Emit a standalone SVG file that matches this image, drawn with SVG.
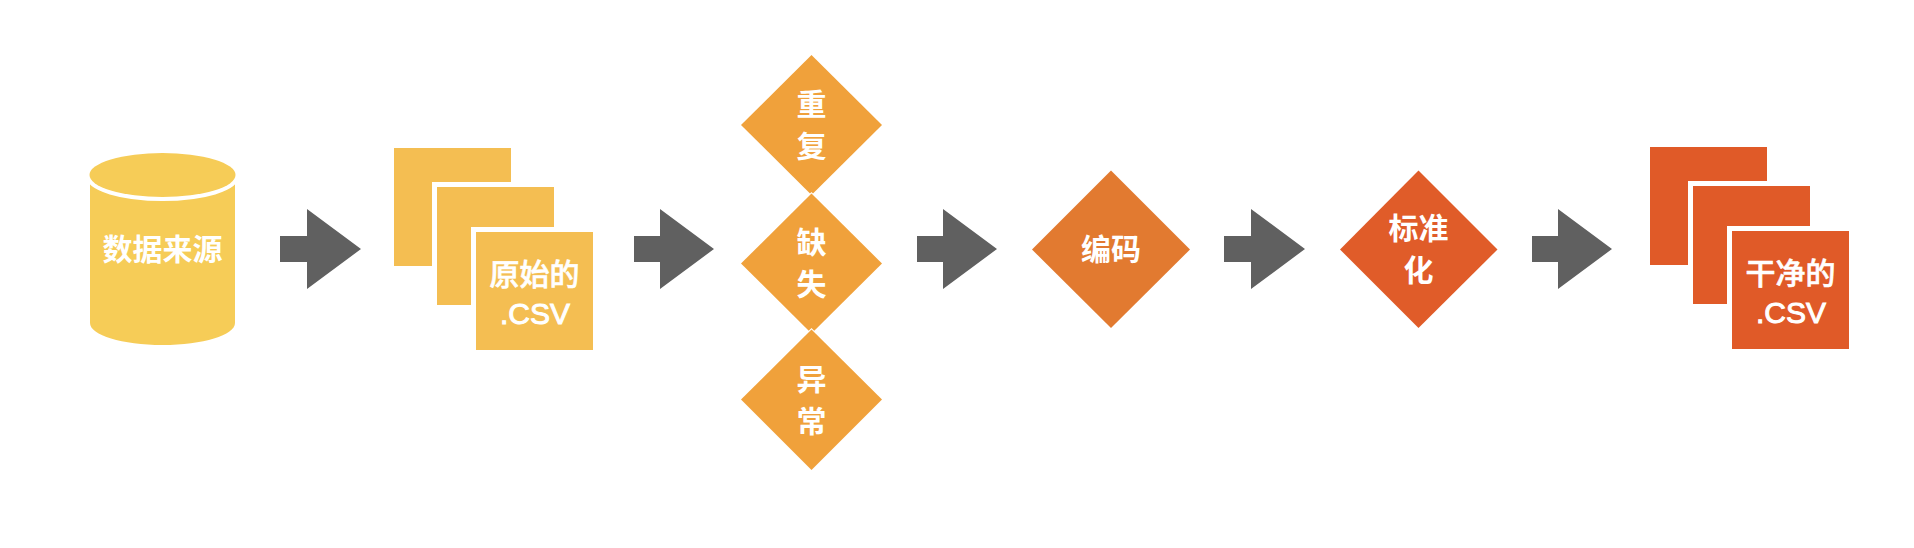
<svg xmlns="http://www.w3.org/2000/svg" width="1914" height="548" viewBox="0 0 1914 548">
<style>
text{font-family:"Noto Sans CJK SC","Liberation Sans",sans-serif;font-size:30px;font-weight:700;fill:#fff;text-anchor:middle}
.latin{font-family:"Liberation Sans","Noto Sans CJK SC",sans-serif;font-weight:400;stroke:#fff;stroke-width:1}
.mid{font-weight:500;stroke:#fff;stroke-width:.6}
.arrow{fill:#606060}
.raw{fill:#F4BE52;stroke:#fff;stroke-width:10;paint-order:stroke}
.clean{fill:#E05A28;stroke:#fff;stroke-width:10;paint-order:stroke}
.d1{fill:#F0A13B;stroke:#fff;stroke-width:2;paint-order:stroke}
</style>
<rect width="1914" height="548" fill="#fff"/>
<g id="connectors">
<polygon class="arrow" points="280,236 307,236 307,209 361,249 307,289 307,262 280,262"/>
<polygon class="arrow" points="634,236 660,236 660,209 714,249 660,289 660,262 634,262"/>
<polygon class="arrow" points="917,236 943,236 943,209 997,249 943,289 943,262 917,262"/>
<polygon class="arrow" points="1224,236 1251,236 1251,209 1305,249 1251,289 1251,262 1224,262"/>
<polygon class="arrow" points="1532,236 1558,236 1558,209 1612,249 1558,289 1558,262 1532,262"/>
</g>
<g id="source">
<path d="M90,175V323C90,335 122,345 162.500,345S235,335 235,323V175Z" fill="#F6CC57"/>
<ellipse cx="162.500" cy="175" rx="73" ry="22" fill="#F6CC57" stroke="#fff" stroke-width="8" paint-order="stroke"/>
<text x="162.500" y="260">数据来源</text>
</g>
<g id="raw-csv">
<rect class="raw" x="394" y="148" width="117" height="118"/>
<rect class="raw" x="437" y="187" width="117" height="118"/>
<rect class="raw" x="476" y="232" width="117" height="118"/>
<text class="mid" x="534.500" y="285">原始的</text>
<text class="latin" x="535" y="324">.CSV</text>
</g>
<g id="duplicate">
<polygon class="d1" points="811.500,55 882,125 811.500,195 741,125"/>
<text x="811.500" y="115">重</text>
<text x="811.500" y="157">复</text>
</g>
<g id="missing">
<polygon class="d1" points="811.500,193.500 882,263.500 811.500,333.500 741,263.500"/>
<text x="811.500" y="253">缺</text>
<text x="811.500" y="295">失</text>
</g>
<g id="outlier">
<polygon class="d1" points="811.500,329.500 882,399.500 811.500,470 741,399.500"/>
<text x="811.500" y="390">异</text>
<text x="811.500" y="432">常</text>
</g>
<g id="encoding">
<polygon fill="#E27A30" points="1111,170.500 1190,249.500 1111,328 1032,249.500"/>
<text x="1111" y="260">编码</text>
</g>
<g id="standardize">
<polygon fill="#E05C29" points="1418.500,170.500 1497.500,249.500 1418.500,328 1340,249.500"/>
<text x="1418.500" y="239">标准</text>
<text x="1418.500" y="281">化</text>
</g>
<g id="clean-csv">
<rect class="clean" x="1650" y="147" width="117" height="118"/>
<rect class="clean" x="1693" y="186" width="117" height="118"/>
<rect class="clean" x="1732" y="231" width="117" height="118"/>
<text class="mid" x="1790.500" y="284">干净的</text>
<text class="latin" x="1791" y="323">.CSV</text>
</g>
</svg>
